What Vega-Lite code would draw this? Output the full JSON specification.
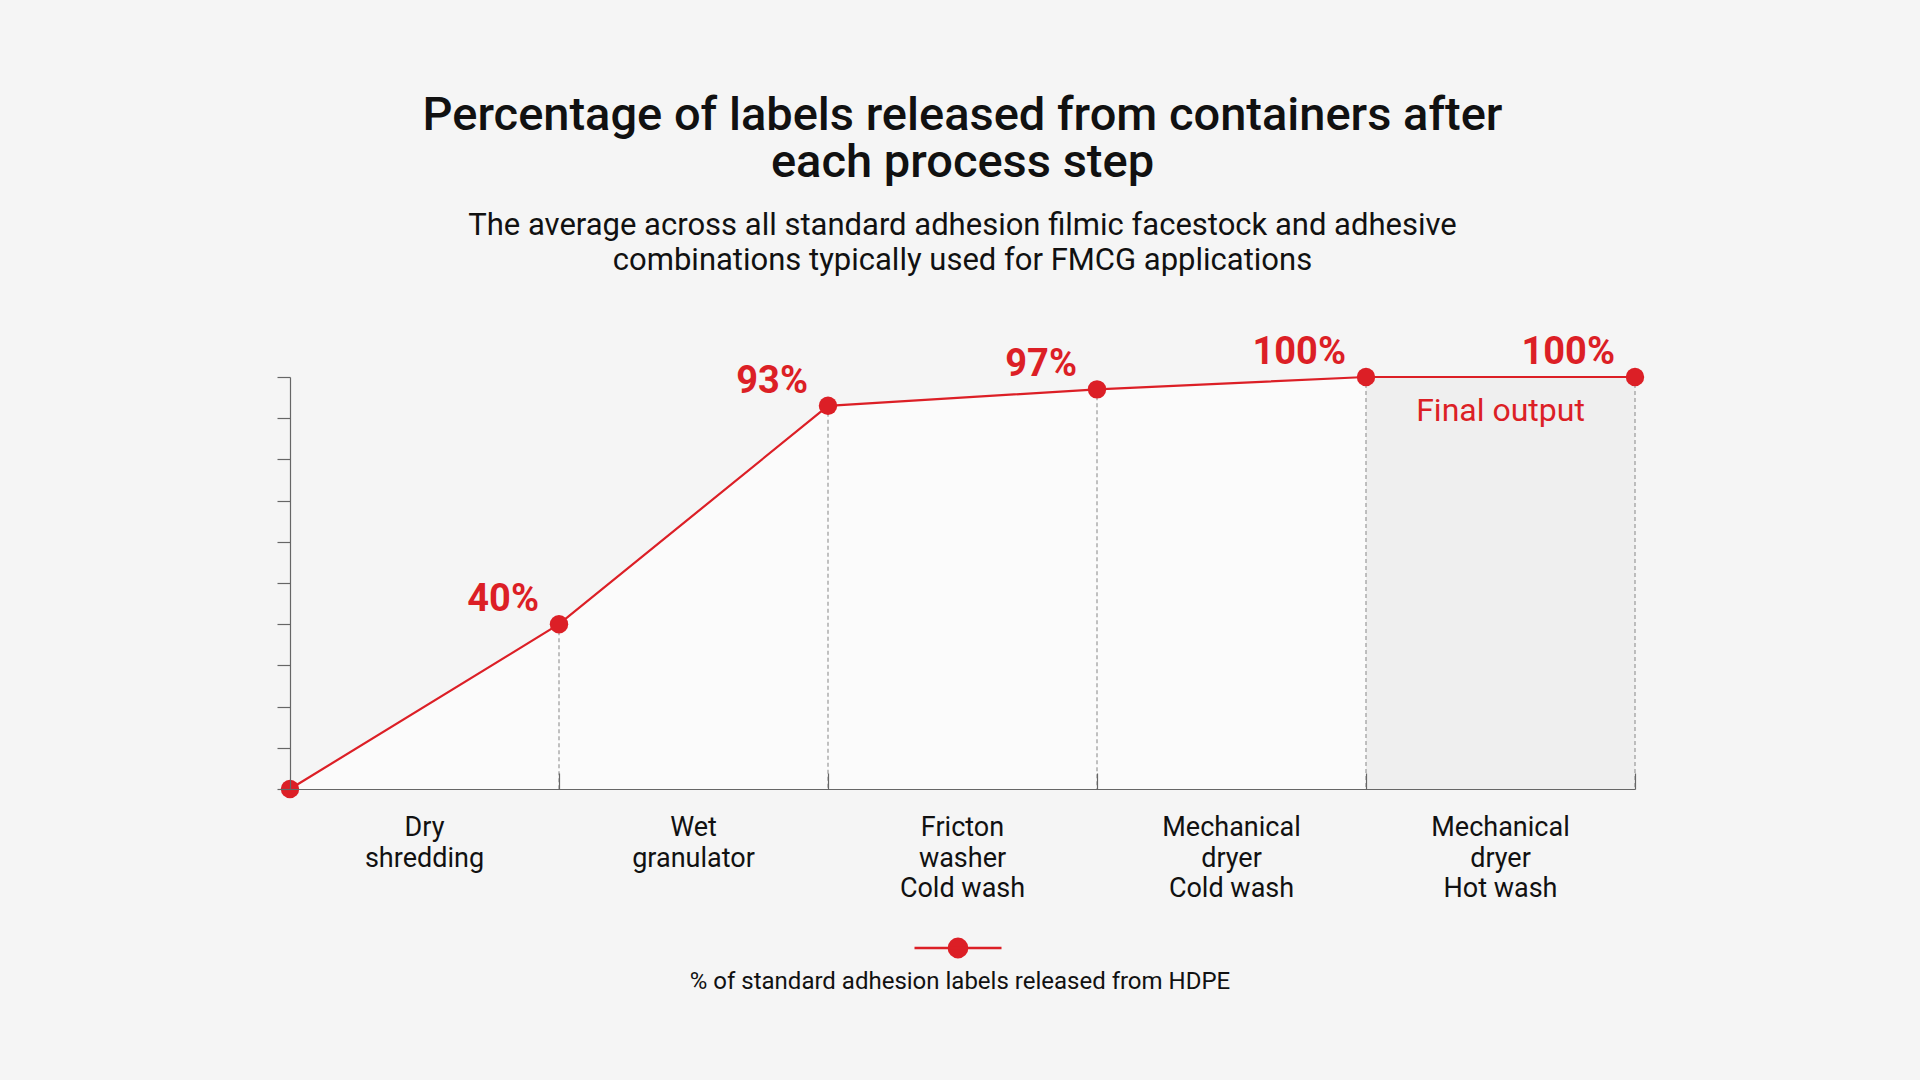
{
  "$schema": "https://vega.github.io/schema/vega-lite/v6.json",
  "autosize": "none",
  "width": 1345,
  "height": 412,
  "padding": {"left": 290, "top": 377, "right": 285, "bottom": 291},
  "background": "#f5f5f5",
  "title": {
    "text": ["Percentage of labels released from containers after", "each process step"],
    "subtitle": ["The average across all standard adhesion filmic facestock and adhesive", "combinations typically used for FMCG applications"],
    "anchor": "middle",
    "font": "Roboto",
    "fontSize": 47,
    "fontWeight": 500,
    "lineHeight": 47,
    "color": "#111111",
    "subtitleFont": "Roboto",
    "subtitleFontSize": 31,
    "subtitleLineHeight": 35.5,
    "subtitleColor": "#111111",
    "subtitlePadding": 24,
    "offset": 57
  },
  "data": {
    "values": [
      {"step": 0, "value": 0, "stage": ""},
      {"step": 1, "value": 0.40, "stage": "Dry\nshredding"},
      {"step": 2, "value": 0.93, "stage": "Wet\ngranulator"},
      {"step": 3, "value": 0.97, "stage": "Fricton\nwasher\nCold wash"},
      {"step": 4, "value": 1.00, "stage": "Mechanical\ndryer\nCold wash"},
      {"step": 5, "value": 1.00, "stage": "Mechanical\ndryer\nHot wash", "regionStart": 4, "region": "Final output"}
    ]
  },
  "encoding": {
    "x": {
      "field": "step",
      "type": "quantitative",
      "scale": {"domain": [0, 5], "nice": false, "zero": false},
      "axis": {
        "values": [1, 2, 3, 4, 5],
        "labels": false,
        "title": null,
        "grid": false,
        "tickSize": -16,
        "tickColor": "#666666",
        "domainColor": "#666666",
        "zindex": 1
      }
    },
    "y": {
      "field": "value",
      "type": "quantitative",
      "scale": {"domain": [0, 1], "nice": false},
      "axis": {
        "values": [0, 0.1, 0.2, 0.3, 0.4, 0.5, 0.6, 0.7, 0.8, 0.9, 1],
        "labels": false,
        "title": null,
        "grid": false,
        "tickSize": 13,
        "tickColor": "#666666",
        "domainColor": "#666666",
        "zindex": 1
      }
    }
  },
  "layer": [
    {
      "mark": {"type": "area", "color": "#fbfbfb"}
    },
    {
      "transform": [{"filter": "isValid(datum.region)"}],
      "mark": {"type": "rect", "color": "#efefef"},
      "encoding": {
        "x": {"field": "regionStart", "type": "quantitative"},
        "x2": {"field": "step"},
        "y": {"datum": 0, "type": "quantitative"},
        "y2": {"field": "value"}
      }
    },
    {
      "transform": [{"filter": "isValid(datum.region)"}],
      "mark": {"type": "text", "font": "Roboto", "fontSize": 32, "color": "#dc1f26", "align": "center", "baseline": "alphabetic", "dx": -134.5, "dy": 44},
      "encoding": {
        "text": {"field": "region"}
      }
    },
    {
      "transform": [{"filter": "datum.step > 0"}],
      "mark": {"type": "rule", "color": "#999999", "strokeWidth": 1.2, "strokeDash": [4, 3]},
      "encoding": {
        "y2": {"datum": 0}
      }
    },
    {
      "mark": {"type": "line", "color": "#dc1f26", "strokeWidth": 2.2}
    },
    {
      "mark": {"type": "circle", "opacity": 1, "size": 340},
      "encoding": {
        "color": {
          "datum": "series",
          "scale": {"range": ["#dc1f26"]},
          "legend": {
            "orient": "none",
            "legendX": 400,
            "legendY": 526,
            "title": "% of standard adhesion labels released from HDPE",
            "titleOrient": "bottom",
            "titleAnchor": "middle",
            "titleFont": "Roboto",
            "titleFontSize": 24,
            "titleFontWeight": "normal",
            "titleColor": "#111111",
            "titleLimit": 1000,
            "titlePadding": 8,
            "labelExpr": "''",
            "labelOffset": 0,
            "symbolType": "M-1,0H1M0.21,0A0.21,0.21,0,1,1,-0.21,0A0.21,0.21,0,1,1,0.21,0Z",
            "symbolSize": 7569,
            "symbolStrokeColor": "#dc1f26",
            "symbolStrokeWidth": 2.5,
            "symbolOpacity": 1
          }
        }
      }
    },
    {
      "transform": [{"filter": "datum.step > 0"}],
      "mark": {"type": "text", "font": "Roboto", "fontSize": 38, "fontWeight": "bold", "color": "#dc1f26", "align": "right", "baseline": "alphabetic", "dx": -20, "dy": -13},
      "encoding": {
        "text": {"field": "value", "type": "quantitative", "format": ".0%"}
      }
    },
    {
      "transform": [{"filter": "datum.step > 0"}],
      "mark": {"type": "text", "font": "Roboto", "fontSize": 27, "color": "#111111", "align": "center", "baseline": "alphabetic", "lineBreak": "\n", "lineHeight": 30.6, "dx": -134.5, "dy": 47},
      "encoding": {
        "y": {"datum": 0},
        "text": {"field": "stage"}
      }
    }
  ],
  "config": {
    "view": {"stroke": null},
    "axis": {"domainWidth": 1.2, "tickWidth": 1.2}
  }
}
